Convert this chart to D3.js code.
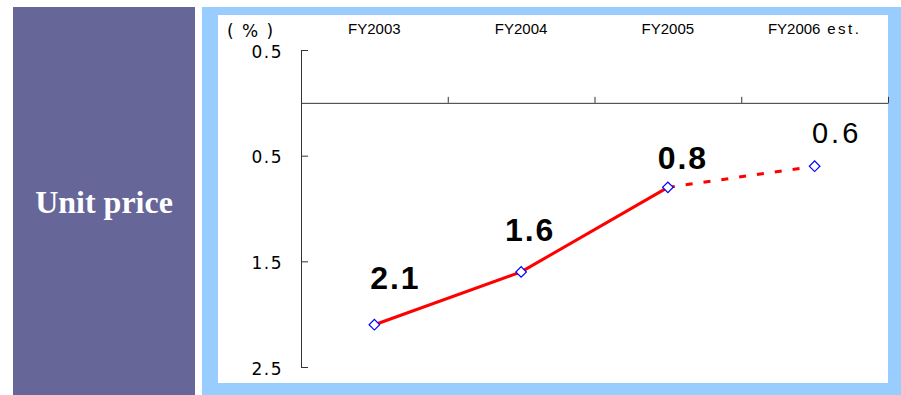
<!DOCTYPE html>
<html>
<head>
<meta charset="utf-8">
<script src="https://cdn.jsdelivr.net/npm/d3@7"></script>
<style>
  html, body { margin: 0; padding: 0; background: #ffffff; }
  svg { display: block; }
</style>
</head>
<body>
<svg id="chart" width="901" height="395"></svg>
<script>
// Unit price change by fiscal year (%), shown downward as declines
const categories = ["FY2003", "FY2004", "FY2005", "FY2006"];
const categoryLabels = ["FY2003", "FY2004", "FY2005", "FY2006 est."];
const values = [2.1, 1.6, 0.8, 0.6];
const estimated = [false, false, false, true];
const yTickValues = [-0.5, 0.5, 1.5, 2.5];

const svg = d3.select("#chart");

// Side panel with the metric name
svg.append("rect").attr("x", 13).attr("y", 7).attr("width", 182).attr("height", 388)
  .attr("fill", "#666699");
svg.append("text")
  .attr("x", 104).attr("y", 213)
  .attr("text-anchor", "middle")
  .attr("font-family", "'Liberation Serif', 'Times New Roman', serif")
  .attr("font-weight", "bold")
  .attr("font-size", 32)
  .attr("fill", "#ffffff")
  .text("Unit price");

// Framed plot panel
svg.append("rect").attr("x", 202).attr("y", 7).attr("width", 699).attr("height", 388)
  .attr("fill", "#99CCFF");
svg.append("rect").attr("x", 218).attr("y", 15).attr("width", 670).attr("height", 368)
  .attr("fill", "#ffffff");

const plot = { left: 301, right: 888, top: 50, bottom: 367 };

const x = d3.scaleBand().domain(categories).range([plot.left, plot.right]);
const y = d3.scaleLinear().domain([-0.5, 2.5]).range([plot.top, plot.bottom]);
const cx = d => x(d) + x.bandwidth() / 2;

const axisColor = "#333333";
const sans = "'Liberation Sans', Arial, sans-serif";
const wideSans = "'DejaVu Sans', sans-serif";

// Vertical axis: ticks point inward, labels show magnitude
const yAxis = d3.axisLeft(y)
  .tickValues(yTickValues)
  .tickSizeInner(-7)
  .tickSizeOuter(0)
  .tickPadding(18)
  .tickFormat(d => d3.format(".1f")(Math.abs(d)));

const gy = svg.append("g").attr("transform", `translate(${plot.left},0)`).call(yAxis);
gy.selectAll("path, line").attr("stroke", axisColor).attr("stroke-width", 1);
gy.selectAll("text")
  .attr("font-family", wideSans)
  .attr("font-size", 17)
  .attr("letter-spacing", "1.5px")
  .attr("dy", "0.42em")
  .attr("fill", "#000");

// Horizontal zero line with category separators
const xIdx = d3.scaleLinear().domain([0, categories.length]).range([plot.left, plot.right]);
const xAxis = d3.axisTop(xIdx)
  .tickValues(d3.range(1, categories.length + 1))
  .tickSizeInner(6)
  .tickSizeOuter(0)
  .tickFormat("");
const gx = svg.append("g").attr("transform", `translate(0,${y(0)})`).call(xAxis);
gx.selectAll("path, line").attr("stroke", axisColor).attr("stroke-width", 1);

// Category labels along the top
const catText = svg.append("g").selectAll("text")
  .data(categories)
  .join("text")
  .attr("x", d => cx(d))
  .attr("y", 34)
  .attr("text-anchor", "middle")
  .attr("font-family", sans)
  .attr("font-size", 15)
  .attr("fill", "#000");
catText.each(function(d, i) {
  const t = d3.select(this);
  const parts = categoryLabels[i].split(" ");
  t.append("tspan").text(parts[0]);
  if (parts.length > 1) {
    t.append("tspan").attr("letter-spacing", "2.5px").attr("xml:space", "preserve")
      .text(" " + parts.slice(1).join(" "));
  }
});

// Unit label
svg.append("text")
  .attr("x", 227).attr("y", 37)
  .attr("font-family", wideSans)
  .attr("font-size", 17)
  .attr("letter-spacing", "1.5px")
  .attr("fill", "#000")
  .attr("xml:space", "preserve")
  .text("( % )");

// Lines: solid for actuals, dashed toward the estimate
const points = categories.map((c, i) => ({ c, v: values[i], est: estimated[i] }));
const line = d3.line().x(d => cx(d.c)).y(d => y(d.v));
const segments = d3.pairs(points);

svg.append("g").selectAll("path")
  .data(segments)
  .join("path")
  .attr("d", s => line(s))
  .attr("fill", "none")
  .attr("stroke", "#ff0000")
  .attr("stroke-width", 3)
  .attr("stroke-dasharray", s => s[1].est ? "7,11" : null);

// Diamond markers
const diamond = d3.symbol().type(d3.symbolSquare).size(56);
svg.append("g").selectAll("path")
  .data(points)
  .join("path")
  .attr("d", diamond)
  .attr("transform", d => `translate(${cx(d.c)},${y(d.v)}) rotate(45)`)
  .attr("fill", "#ffffff")
  .attr("stroke", "#0000ff")
  .attr("stroke-width", 1.2);

// Value labels placed above and to the right of each point
const labelNudge = [[21, -36], [9, -31], [15, -18], [22, -23]];
svg.append("g").selectAll("text")
  .data(points)
  .join("text")
  .attr("x", (d, i) => cx(d.c) + labelNudge[i][0])
  .attr("y", (d, i) => y(d.v) + labelNudge[i][1])
  .attr("text-anchor", "middle")
  .attr("font-family", sans)
  .attr("font-size", d => d.est ? 29 : 32)
  .attr("font-weight", d => d.est ? "normal" : "bold")
  .attr("letter-spacing", d => d.est ? "3px" : "2px")
  .attr("fill", "#000")
  .text(d => d3.format(".1f")(d.v));
</script>
</body>
</html>
